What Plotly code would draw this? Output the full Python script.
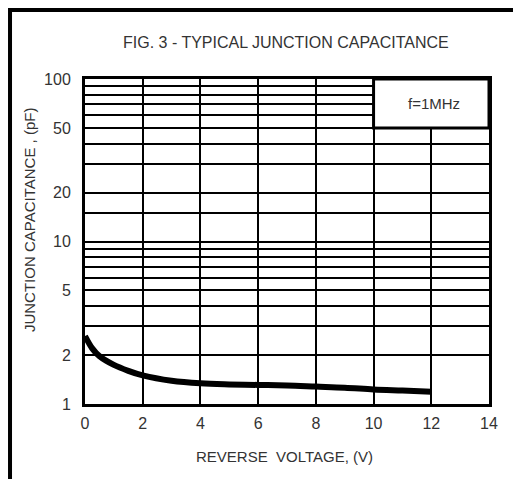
import plotly.graph_objects as go
import math

# data
voltage = [0, 0.25, 0.5, 1, 1.5, 2, 3, 4, 5, 6, 7, 8, 9, 10, 11, 12]
capacitance = [2.62, 2.2, 1.97, 1.74, 1.6, 1.5, 1.39, 1.34, 1.32, 1.31, 1.3, 1.28, 1.26, 1.23, 1.21, 1.19]
x_ticks = [0, 2, 4, 6, 8, 10, 12, 14]
y_ticks = [1, 2, 5, 10, 20, 50, 100]
y_minor = [3, 4, 6, 7, 8, 9, 15, 30, 40, 60, 70, 80, 90]

FONT = "Liberation Sans, Arial, sans-serif"
TXT = "#333333"

fig = go.Figure()
fig.add_trace(go.Scatter(x=voltage, y=capacitance, mode="lines",
                         line=dict(color="black", width=6, shape="spline"),
                         showlegend=False, hoverinfo="skip"))

fig.update_layout(
    width=521, height=479,
    margin=dict(l=77, r=40, t=71, b=83, autoexpand=False),
    paper_bgcolor="white", plot_bgcolor="white",
    font=dict(family=FONT, size=15, color=TXT),
    showlegend=False,
)
fig.update_xaxes(range=[0, 14], tickvals=x_ticks, ticktext=[str(v) for v in x_ticks],
                 showgrid=True, gridcolor="black", gridwidth=2,
                 showline=True, mirror=True, linecolor="black", linewidth=3,
                 zeroline=False, ticks="", ticklabelstandoff=3, tickfont=dict(size=16, color=TXT))
fig.update_yaxes(type="log", range=[0, 2], tickvals=y_ticks, ticktext=[str(v) for v in y_ticks],
                 showgrid=True, gridcolor="black", gridwidth=2,
                 minor=dict(tickvals=y_minor, showgrid=True, gridcolor="black", gridwidth=2, ticks=""),
                 showline=True, mirror=True, linecolor="black", linewidth=3,
                 zeroline=False, ticks="", ticklabelstandoff=8, tickfont=dict(size=16, color=TXT))

# frequency box
fig.add_shape(type="rect", xref="x", yref="y", x0=10, x1=14, y0=50, y1=100,
              fillcolor="white", line=dict(color="black", width=3), layer="above")
fig.add_annotation(x=12.1, y=math.log10(71), xref="x", yref="y", text="f=1MHz",
                   showarrow=False, xanchor="center", yanchor="middle", font=dict(size=15, color=TXT))

# outer frame (top and left)
fig.add_shape(type="line", xref="paper", yref="paper", x0=-0.1856, x1=1.2, y0=1.2123, y1=1.2123,
              line=dict(color="black", width=4), layer="above")
fig.add_shape(type="line", xref="paper", yref="paper", x0=-0.1856, x1=-0.1856, y0=1.2185, y1=-0.3,
              line=dict(color="black", width=4), layer="above")

fig.add_annotation(x=0.4975, y=1.111, xref="paper", yref="paper", text="FIG. 3 - TYPICAL JUNCTION CAPACITANCE",
                   showarrow=False, xanchor="center", yanchor="middle", font=dict(size=16, color=TXT))
fig.add_annotation(x=-0.1386, y=0.566, xref="paper", yref="paper", text="JUNCTION CAPACITANCE , (pF)",
                   textangle=-90, showarrow=False, xanchor="center", yanchor="middle",
                   font=dict(size=15, color=TXT))
fig.add_annotation(x=0.4926, y=-0.16, xref="paper", yref="paper", text="REVERSE&nbsp;&nbsp;VOLTAGE, (V)",
                   showarrow=False, xanchor="center", yanchor="middle", font=dict(size=15, color=TXT))

fig.write_html("out.html")
